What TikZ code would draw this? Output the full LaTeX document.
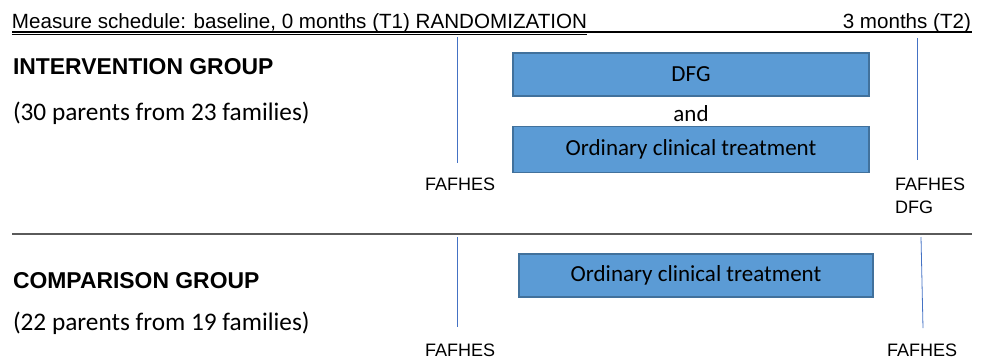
\documentclass[tikz,border=0pt]{standalone}
\usepackage{fontspec}
\setmainfont{Liberation Sans}
\newfontfamily\calfont{Carlito}
\definecolor{boxfill}{RGB}{91,155,213}
\definecolor{boxedge}{RGB}{65,113,156}
\definecolor{vline}{RGB}{68,114,196}
\definecolor{sepline}{RGB}{90,90,90}
\begin{document}
\begin{tikzpicture}[x=1pt,y=-1pt,
  lbl/.style={inner sep=0pt,outer sep=0pt},
  arial/.style={lbl,font=\fontsize{20.6}{22}\selectfont},
  fafhes/.style={lbl,anchor=base west,font=\fontsize{18}{23}\selectfont},
  grp/.style={lbl,anchor=base west,font=\fontsize{22.9}{24}\selectfont\bfseries},
  cnt/.style={lbl,anchor=base west,font=\fontsize{25.3}{28}\selectfont\calfont},
  treat/.style={draw=boxedge,line width=1.3pt,fill=boxfill,inner sep=0pt,font=\fontsize{23}{26}\selectfont\calfont},
  tline/.style={vline,line width=0.8pt}]
\useasboundingbox (0,0) rectangle (986,360);
% header
\node[arial,anchor=base west] (hdr) at (12,28.5) {\underline{Measure schedule: baseline, 0 months (T1) RANDOMIZATION}};
\node[arial,anchor=base east] (t2) at (971,28.5) {3 months (T2)};
\coordinate (hl) at (12,32);
\coordinate (hr) at (972,32);
\draw[line width=2pt] (hl) -- (hr);
% intervention group
\node[grp] (ig) at (13,74) {INTERVENTION GROUP};
\node[cnt] (ign) at (13,120) {(30 parents from 23 families)};
\node[treat,minimum width=356pt,minimum height=43pt] (dfg) at (691,74.5) {DFG};
\node[lbl,font=\fontsize{23}{26}\selectfont\calfont,anchor=base] (and) at (691,121) {and};
\node[treat,minimum width=356pt,minimum height=46pt] (oct1) at (691,149.5) {Ordinary clinical treatment};
\coordinate (v1a) at (457,37);
\coordinate (v1b) at (457,163);
\coordinate (v2a) at (917,38);
\coordinate (v2b) at (917,160);
\draw[tline] (v1a) -- (v1b);
\draw[tline] (v2a) -- (v2b);
\node[fafhes] (f1) at (425,190) {FAFHES};
\node[fafhes] (f2) at (895,190) {FAFHES};
\node[fafhes] (f2b) at (895,213) {DFG};
% separator
\coordinate (sl) at (12,234);
\coordinate (sr) at (972,234);
\draw[sepline,line width=1.6pt] (sl) -- (sr);
% comparison group
\node[grp] (cg) at (13,288) {COMPARISON GROUP};
\node[cnt] (cgn) at (13,330) {(22 parents from 19 families)};
\node[treat,minimum width=354pt,minimum height=43pt] (oct2) at (696,275.5) {Ordinary clinical treatment};
\coordinate (v3a) at (457,237);
\coordinate (v3b) at (457,327);
\coordinate (v4a) at (921,237);
\coordinate (v4b) at (923,328);
\draw[tline] (v3a) -- (v3b);
\draw[tline] (v4a) -- (v4b);
\node[fafhes] (f3) at (425,356) {FAFHES};
\node[fafhes] (f4) at (887,356) {FAFHES};
\end{tikzpicture}
\end{document}
